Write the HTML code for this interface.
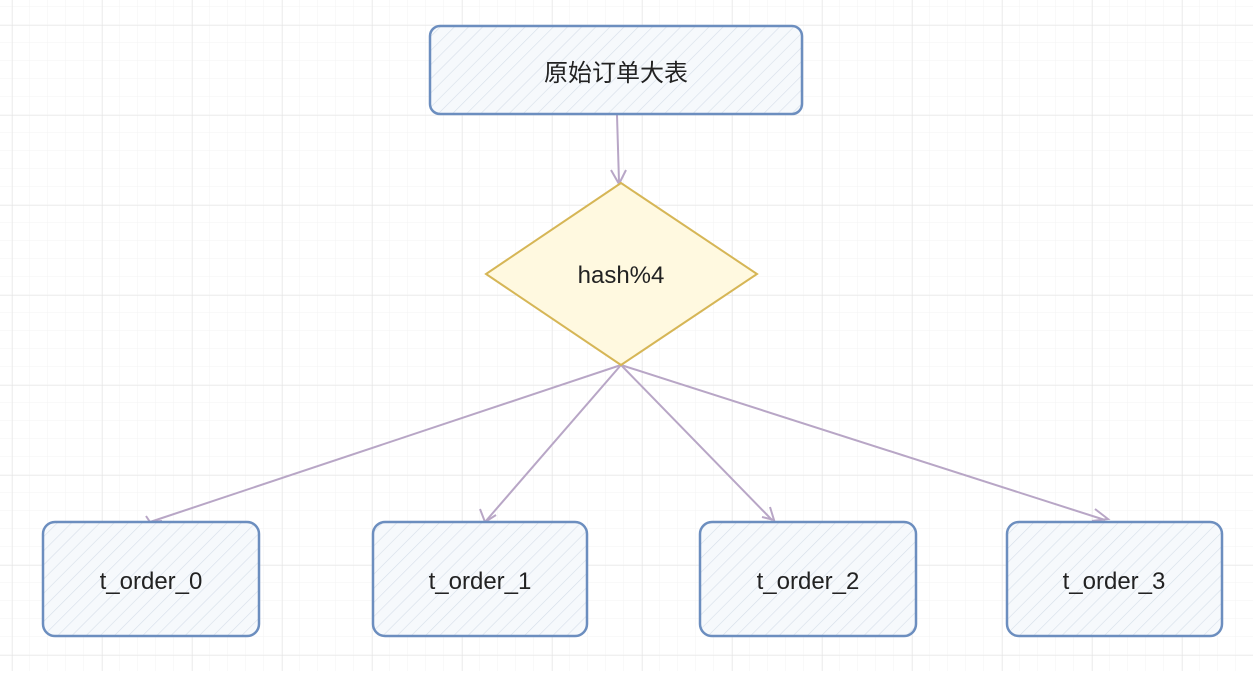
<!DOCTYPE html>
<html><head><style>
body{margin:0;width:1253px;height:671px;overflow:hidden;background:#fff;font-family:"Liberation Sans","Noto Sans CJK SC",sans-serif}
</style></head><body>
<svg width="1253" height="671" xmlns="http://www.w3.org/2000/svg">
<defs>
<pattern id="g" width="18" height="18" patternUnits="userSpaceOnUse" x="12" y="7"><path d="M18 0V18M0 18H18" stroke="#f3f3f3" stroke-width="1" fill="none"/></pattern>
<pattern id="G" width="90" height="90" patternUnits="userSpaceOnUse" x="12" y="25"><path d="M0 0V90M0 0H90" stroke="#e2e2e2" stroke-width="1" fill="none"/></pattern>
<pattern id="h" width="10" height="10" patternUnits="userSpaceOnUse" patternTransform="rotate(45)"><rect width="10" height="10" fill="#f6f9fc"/><path d="M0 0V10" stroke="#d6dfe9" stroke-width="1.2"/></pattern>
</defs>
<rect width="1253" height="671" fill="url(#g)"/>
<rect width="1253" height="671" fill="url(#G)"/>
<g stroke="#b8a6c6" stroke-width="2" fill="none">
<path d="M617 115 L619 182"/><path d="M611 170 L619 184 L626 170"/>
<path d="M621 365 L150 522"/><path d="M146 516 L150 522 L162 521"/>
<path d="M621 365 L485 522"/><path d="M480 509 L485 522 L496 515"/>
<path d="M621 365 L772 520"/><path d="M762 517 L774 520 L770 507"/>
<path d="M621 365 L1105 520"/><path d="M1095 509 L1108 519 L1092 521"/>
</g>
<g stroke="#6c8ebf" stroke-width="2.5" fill="url(#h)">
<rect x="430" y="26" width="372" height="88" rx="10"/>
<rect x="43" y="522" width="216" height="114" rx="12"/>
<rect x="373" y="522" width="214" height="114" rx="12"/>
<rect x="700" y="522" width="216" height="114" rx="12"/>
<rect x="1007" y="522" width="215" height="114" rx="12"/>
</g>
<polygon points="621,183 757,274 621,365 486,274" fill="#fff9e0" stroke="#d6b656" stroke-width="2"/>
<g font-size="24" fill="#222" text-anchor="middle">
<text x="616" y="81">原始订单大表</text>
<text x="621" y="283">hash%4</text>
<text x="151" y="589">t_order_0</text>
<text x="480" y="589">t_order_1</text>
<text x="808" y="589">t_order_2</text>
<text x="1114" y="589">t_order_3</text>
</g>
</svg>
</body></html>
